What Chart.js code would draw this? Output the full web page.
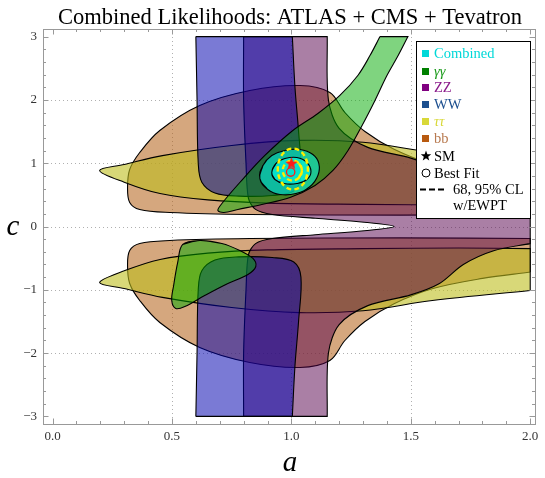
<!DOCTYPE html>
<html><head><meta charset="utf-8">
<script src="https://cdn.jsdelivr.net/npm/chart.js@4.4.1/dist/chart.umd.min.js"></script>
<style>html,body{margin:0;padding:0;background:#fff}canvas{display:block}</style>
</head><body>
<canvas id="c" width="545" height="478"></canvas>
<script>
const chartTitle = 'Combined Likelihoods: ATLAS + CMS + Tevatron';
const xLabel = 'a', yLabel = 'c';
const xTickValues = [0, 0.5, 1, 1.5, 2];
const yTickValues = [-3, -2, -1, 0, 1, 2, 3];
const legendNames = ['Combined', 'γγ', 'ZZ', 'WW', 'ττ', 'bb', 'SM', 'Best Fit', '68, 95% CL', 'w/EWPT'];

// contour polygons, [a, c] points
const bbUpper = [[2.0,0.72],[1.8,0.82],[1.593,0.98],[1.43,1.22],[1.308,1.5],[1.224,1.801],[1.161,2.117],[1.036,2.227],[0.826,2.148],[0.616,1.911],[0.449,1.517],[0.365,1.169],[0.323,0.90],[0.314,0.616],[0.323,0.379],[0.365,0.268],[0.491,0.221],[0.826,0.19],[1.455,0.18],[2.0,0.19]];
const bbLower = [[2.0,-0.72],[1.8,-0.82],[1.593,-0.98],[1.43,-1.22],[1.308,-1.5],[1.224,-1.801],[1.161,-2.117],[1.036,-2.227],[0.826,-2.148],[0.616,-1.911],[0.449,-1.517],[0.365,-1.169],[0.323,-0.90],[0.314,-0.616],[0.323,-0.379],[0.365,-0.268],[0.491,-0.221],[0.826,-0.19],[1.455,-0.18],[2.0,-0.19]];
const tautauUpper = [[2.0,1.01],[1.59,1.17],[1.30,1.33],[1.03,1.36],[0.75,1.28],[0.46,1.12],[0.30,0.98],[0.197,0.885],[0.30,0.70],[0.45,0.52],[0.65,0.42],[0.9,0.37],[1.3,0.35],[1.7,0.34],[2.0,0.35]];
const tautauLower = [[2.0,-1.01],[1.59,-1.17],[1.30,-1.33],[1.03,-1.36],[0.75,-1.28],[0.46,-1.12],[0.30,-0.98],[0.197,-0.885],[0.30,-0.70],[0.45,-0.52],[0.65,-0.42],[0.9,-0.37],[1.3,-0.35],[1.7,-0.34],[2.0,-0.35]];
const zzRegion = [[0.80,3.0],[0.80,2.0],[0.81,1.0],[0.82,0.45],[0.85,0.27],[0.92,0.19],[1.1,0.13],[1.317,0.063],[1.43,0.0],[1.317,-0.063],[1.1,-0.13],[0.92,-0.19],[0.85,-0.27],[0.82,-0.45],[0.81,-1.0],[0.80,-2.0],[0.80,-3.0],[1.15,-3.0],[1.155,-2.0],[1.2,-1.55],[1.32,-1.25],[1.5,-1.08],[1.62,-0.9],[1.72,-0.6],[1.85,-0.38],[2.0,-0.27],[2.0,0.27],[1.85,0.38],[1.72,0.6],[1.62,0.9],[1.5,1.08],[1.32,1.25],[1.2,1.55],[1.155,2.0],[1.15,3.0]];
const wwUpper = [[0.60,3.0],[0.605,2.0],[0.61,1.0],[0.625,0.7],[0.68,0.53],[0.78,0.48],[0.92,0.49],[1.01,0.56],[1.04,0.80],[1.03,1.5],[1.015,2.2],[1.004,3.0]];
const wwLower = [[0.60,-3.0],[0.605,-2.0],[0.61,-1.0],[0.625,-0.7],[0.68,-0.53],[0.78,-0.48],[0.92,-0.49],[1.01,-0.56],[1.04,-0.80],[1.03,-1.5],[1.015,-2.2],[1.004,-3.0]];
const gagaUpper = [[1.371,3.0],[1.329,2.70],[1.279,2.39],[1.203,2.07],[1.111,1.785],[1.006,1.517],[0.889,1.122],[0.784,0.695],[0.709,0.363],[0.692,0.253],[0.717,0.221],[0.776,0.269],[0.876,0.348],[0.994,0.458],[1.099,0.648],[1.174,0.885],[1.237,1.201],[1.296,1.596],[1.350,1.991],[1.400,2.385],[1.447,2.70],[1.488,3.0]];
const gagaLower = [[0.617,-0.221],[0.709,-0.268],[0.784,-0.379],[0.839,-0.505],[0.851,-0.632],[0.818,-0.758],[0.734,-0.900],[0.637,-1.090],[0.554,-1.264],[0.516,-1.295],[0.499,-1.169],[0.507,-0.932],[0.524,-0.568],[0.545,-0.284]];
const combined95 = [[0.868,0.758],[0.881,0.964],[0.918,1.122],[0.973,1.201],[1.036,1.216],[1.090,1.137],[1.115,0.995],[1.111,0.806],[1.078,0.632],[1.019,0.521],[0.952,0.506],[0.901,0.585]];
const combined68 = [[0.918,0.853],[0.935,0.995],[0.973,1.074],[1.023,1.090],[1.065,1.011],[1.082,0.869],[1.065,0.742],[1.023,0.679],[0.969,0.679],[0.931,0.742]];
const ewpt95 = [[1.069,0.908],[1.061,1.070],[1.038,1.190],[1.006,1.232],[0.975,1.190],[0.952,1.070],[0.943,0.908],[0.952,0.747],[0.975,0.627],[1.006,0.585],[1.038,0.627],[1.061,0.747]];
const ewpt68 = [[1.044,0.885],[1.032,0.997],[1.004,1.043],[0.976,0.997],[0.964,0.885],[0.976,0.773],[1.004,0.727],[1.032,0.773]];
const smPoint = [1.0, 1.0];
const bestFitPoint = [0.997, 0.86];

// points on the plot-range edge are doubled so the spline keeps a sharp corner there;
// shapes without edge points are wrapped so the spline also closes smoothly
const onEdge = ([x, y]) => Math.abs(y) >= 3 || x >= 2;
const toPts = arr => {
  const p = [];
  const hasEdge = arr.some(onEdge);
  const seq = hasEdge ? arr.concat([arr[0]]) : [arr[arr.length - 1]].concat(arr, [arr[0], arr[1]]);
  seq.forEach(pt => { p.push({x: pt[0], y: pt[1]}); if (onEdge(pt)) p.push({x: pt[0], y: pt[1]}); });
  return p;
};

const FILL = {
  bb: 'rgba(178,95,20,0.55)',
  tt: 'rgba(190,190,30,0.6)',
  zz: 'rgba(85,0,75,0.5)',
  ww: 'rgba(0,0,175,0.52)',
  gg: 'rgba(0,170,0,0.5)',
  comb: 'rgba(0,255,240,0.55)'
};

function region(data, fill, order, tension) {
  return {type: 'line', data: toPts(data), showLine: true, fill: 'shape', backgroundColor: fill,
    borderColor: '#000', borderWidth: 1.1, pointRadius: 0, tension: tension ?? 0.35, order};
}
function dashed(data, order) {
  return {type: 'line', data: toPts(data), showLine: true, fill: false, borderColor: '#ffee00',
    borderWidth: 2.4, borderDash: [5, 3], pointRadius: 0, tension: 0.4, order};
}

function starCanvas(size, color) {
  const c = document.createElement('canvas'); c.width = size; c.height = size;
  const g = c.getContext('2d'); g.fillStyle = color; starPath(g, size/2, size/2+0.5, size/2, size/4.6); g.fill();
  return c;
}
function starPath(g, cx, cy, R, r) {
  g.beginPath();
  for (let i = 0; i < 10; i++) {
    const ang = -Math.PI/2 + i*Math.PI/5, rr = i % 2 ? r : R;
    const x = cx + rr*Math.cos(ang), y = cy + rr*Math.sin(ang);
    i ? g.lineTo(x, y) : g.moveTo(x, y);
  }
  g.closePath();
}

const datasets = [
  region(bbUpper, FILL.bb, 60), region(bbLower, FILL.bb, 60),
  region(tautauUpper, FILL.tt, 50), region(tautauLower, FILL.tt, 50),
  region(zzRegion, FILL.zz, 40, 0.3),
  region(wwUpper, FILL.ww, 30), region(wwLower, FILL.ww, 30),
  region(gagaUpper, FILL.gg, 20), region(gagaLower, FILL.gg, 20),
  region(combined95, FILL.comb, 10, 0.45), region(combined68, FILL.comb, 9, 0.45),
  dashed(ewpt95, 5), dashed(ewpt68, 5),
  {type: 'scatter', data: [{x: smPoint[0], y: smPoint[1]}], pointStyle: starCanvas(13, '#ff1a1a'), pointRadius: 6, order: 1},
  {type: 'scatter', data: [{x: bestFitPoint[0], y: bestFitPoint[1]}], pointStyle: 'circle', pointRadius: 4.2,
    borderColor: '#ff1a1a', borderWidth: 1.3, backgroundColor: 'rgba(0,0,0,0)', order: 0}
];

const SERIF = '"Liberation Serif", "DejaVu Serif", serif';

const framePlugin = {
  id: 'frame',
  beforeDatasetsDraw(chart) {
    const {ctx, chartArea: a, scales: {x, y}} = chart;
    ctx.save();
    ctx.strokeStyle = '#b0b0b0'; ctx.lineWidth = 1; ctx.setLineDash([1, 3]);
    [0.5, 1, 1.5].forEach(v => { const px = Math.round(x.getPixelForValue(v)) + 0.5; ctx.beginPath(); ctx.moveTo(px, a.top); ctx.lineTo(px, a.bottom); ctx.stroke(); });
    [-2, -1, 0, 1, 2].forEach(v => { const py = Math.round(y.getPixelForValue(v)) + 0.5; ctx.beginPath(); ctx.moveTo(a.left, py); ctx.lineTo(a.right, py); ctx.stroke(); });
    ctx.restore();
  },
  afterDatasetsDraw(chart) {
    const {ctx, chartArea: a, scales: {x, y}} = chart;
    ctx.save();
    ctx.strokeStyle = '#999'; ctx.lineWidth = 1;
    ctx.strokeRect(Math.round(a.left) + 0.5, Math.round(a.top) + 0.5, Math.round(a.right - a.left), Math.round(a.bottom - a.top));
    for (let i = 0; i <= 20; i++) {
      const v = i / 10, px = Math.round(x.getPixelForValue(v)) + 0.5, len = i % 5 ? 3 : 5.5;
      ctx.beginPath(); ctx.moveTo(px, a.bottom); ctx.lineTo(px, a.bottom - len); ctx.moveTo(px, a.top); ctx.lineTo(px, a.top + len); ctx.stroke();
    }
    for (let i = -15; i <= 15; i++) {
      const v = i / 5, py = Math.round(y.getPixelForValue(v)) + 0.5, len = i % 5 ? 3 : 5.5;
      ctx.beginPath(); ctx.moveTo(a.left, py); ctx.lineTo(a.left + len, py); ctx.moveTo(a.right, py); ctx.lineTo(a.right - len, py); ctx.stroke();
    }
    ctx.fillStyle = '#000'; ctx.textAlign = 'center'; ctx.textBaseline = 'alphabetic';
    ctx.font = '22.5px ' + SERIF;
    ctx.fillText(chartTitle, 290, 24);
    ctx.font = 'italic 29px ' + SERIF;
    ctx.fillText(xLabel, 290, 471);
    ctx.fillText(yLabel, 13, 235);
    const L = 416, T = 41, R = 530, B = 218;
    ctx.fillStyle = '#fff'; ctx.fillRect(L, T, R - L, B - T);
    ctx.strokeStyle = '#000'; ctx.lineWidth = 1; ctx.strokeRect(L + 0.5, T + 0.5, R - L, B - T);
    const sw = ['#00d8d8', '#008000', '#800080', '#1c4f8f', '#d8d838', '#b85a10'];
    const tc = ['#00d8d8', '#1a9a1a', '#8a1a8a', '#1c4f8f', '#d8d838', '#b87a50'];
    const ys = [53, 71, 87, 104, 121, 138];
    ctx.textAlign = 'left'; ctx.textBaseline = 'middle';
    for (let i = 0; i < 6; i++) {
      ctx.fillStyle = sw[i]; ctx.fillRect(422, ys[i] - 3, 7, 7);
      ctx.fillStyle = tc[i];
      ctx.font = ((i === 1 || i === 4) ? 'italic ' : '') + '14.5px ' + SERIF;
      ctx.fillText(legendNames[i], 434, ys[i] + 1);
    }
    ctx.fillStyle = '#000'; starPath(ctx, 426, 156, 5.5, 2.3); ctx.fill();
    ctx.font = '14.5px ' + SERIF;
    ctx.fillText(legendNames[6], 434, 157);
    ctx.beginPath(); ctx.arc(426, 173, 4, 0, 2*Math.PI); ctx.strokeStyle = '#000'; ctx.lineWidth = 1; ctx.stroke();
    ctx.fillText(legendNames[7], 434, 174);
    ctx.setLineDash([6, 3]); ctx.lineWidth = 2.2; ctx.beginPath(); ctx.moveTo(420, 189.5); ctx.lineTo(447, 189.5); ctx.stroke(); ctx.setLineDash([]);
    ctx.fillText(legendNames[8], 453, 190);
    ctx.fillText(legendNames[9], 453, 206);
    ctx.restore();
  }
};

new Chart(document.getElementById('c'), {
  type: 'scatter',
  data: {datasets},
  options: {
    responsive: false, animation: false, devicePixelRatio: 1,
    layout: {padding: {left: 0, right: 10, top: 29, bottom: 0}},
    plugins: {legend: {display: false}, tooltip: {enabled: false}, title: {display: false}},
    scales: {
      x: {type: 'linear', min: -0.04, max: 2.02,
        afterFit: s => { s.height = 54; },
        afterBuildTicks: s => { s.ticks = xTickValues.map(v => ({value: v})); },
        grid: {display: false, drawTicks: false}, border: {display: false},
        ticks: {font: {family: SERIF, size: 13}, color: '#333', padding: 5, maxRotation: 0, callback: v => v.toFixed(1)}},
      y: {type: 'linear', min: -3.12, max: 3.12,
        afterFit: s => { s.width = 43; },
        afterBuildTicks: s => { s.ticks = yTickValues.map(v => ({value: v})); },
        grid: {display: false, drawTicks: false}, border: {display: false},
        ticks: {font: {family: SERIF, size: 13}, color: '#333', padding: 6, callback: v => v < 0 ? '\u2212' + Math.abs(v) : String(v)}}
    }
  },
  plugins: [framePlugin]
});
</script>
</body></html>
